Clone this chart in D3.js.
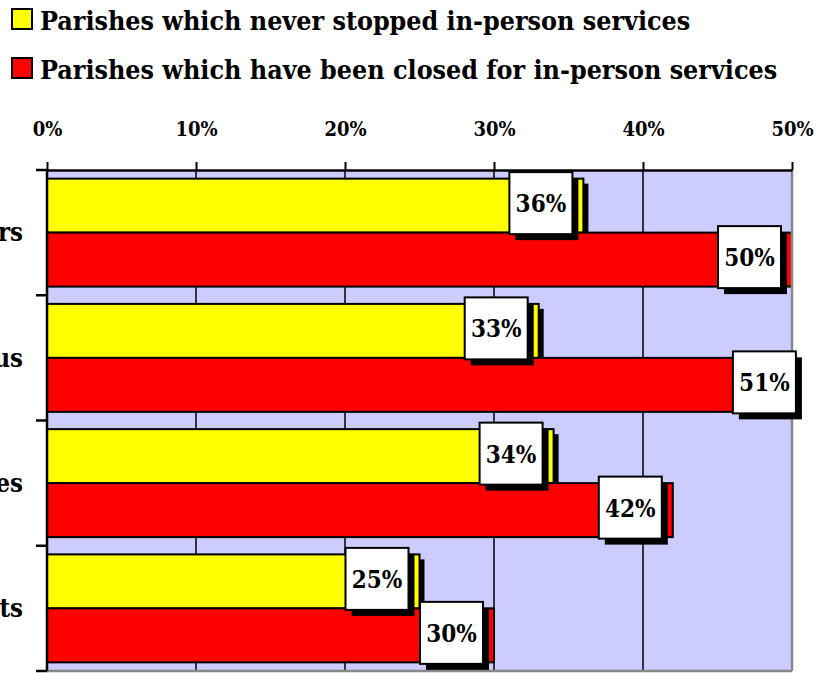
<!DOCTYPE html>
<html>
<head>
<meta charset="utf-8">
<script src="https://cdn.jsdelivr.net/npm/d3@7"></script>
<style>
  html, body { margin: 0; padding: 0; background: #fff; }
  svg { display: block; }
  text { font-family: "DejaVu Serif", serif; font-stretch: condensed; font-weight: bold; fill: #000; }
</style>
</head>
<body>
<svg id="chart" width="827" height="673"></svg>
<script>
// Survey results: share of parishes by group
const categories = ["Volunteers", "Coronavirus", "Families", "Young Adults"];
const seriesNames = ["Parishes which never stopped in-person services",
                     "Parishes which have been closed for in-person services"];
const neverStopped = [36, 33, 34, 25];
const closedServices = [50, 51, 42, 30];
const tickValues = [0, 10, 20, 30, 40, 50];
const seriesColors = ["#FFFF00", "#FF0000"];

const svg = d3.select("#chart");
const plot = { left: 47, right: 792, top: 170, bottom: 671 };

const x = d3.scaleLinear().domain([0, 50]).range([plot.left, plot.right]);
const y = d3.scaleBand().domain(categories).range([plot.top, plot.bottom]).paddingInner(0);
const ySub = d3.scaleBand().domain([0, 1]).range([0, y.bandwidth()])
  .paddingInner(0).paddingOuter(0.16);

const rows = categories.map((c, i) => ({ cat: c, values: [neverStopped[i], closedServices[i]] }));

// Legend
const legend = svg.append("g");
seriesNames.forEach((name, i) => {
  const g = legend.append("g").attr("transform", `translate(0, ${i * 49})`);
  g.append("rect").attr("x", 12).attr("y", 9).attr("width", 20).attr("height", 20)
    .attr("fill", seriesColors[i]).attr("stroke", "#000").attr("stroke-width", 2);
  g.append("text").attr("x", 40).attr("y", 30).attr("font-size", 26.6).text(name);
});

// Plot background
svg.append("rect").attr("x", plot.left).attr("y", plot.top)
  .attr("width", plot.right - plot.left).attr("height", plot.bottom - plot.top)
  .attr("fill", "#CCCCFF");

// Vertical gridlines
svg.append("g").selectAll("line").data(tickValues.slice(1, -1)).join("line")
  .attr("x1", d => x(d)).attr("x2", d => x(d))
  .attr("y1", plot.top).attr("y2", plot.bottom)
  .attr("stroke", "#000").attr("stroke-width", 1.5);

svg.append("defs").append("clipPath").attr("id", "plotClip")
  .append("rect").attr("x", plot.left).attr("y", plot.top)
  .attr("width", plot.right - plot.left).attr("height", plot.bottom - plot.top);

const bars = svg.append("g").attr("clip-path", "url(#plotClip)");

// Drop shadows behind the yellow bars
bars.append("g").selectAll("rect").data(rows).join("rect")
  .attr("x", x(0) + 5)
  .attr("y", d => y(d.cat) + ySub(0) + 5)
  .attr("width", d => x(d.values[0]) - x(0))
  .attr("height", ySub.bandwidth())
  .attr("fill", "#000");

[0, 1].forEach(s => {
  bars.append("g").selectAll("rect").data(rows).join("rect")
    .attr("x", x(0))
    .attr("y", d => y(d.cat) + ySub(s))
    .attr("width", d => x(d.values[s]) - x(0))
    .attr("height", ySub.bandwidth())
    .attr("fill", seriesColors[s])
    .attr("stroke", "#000").attr("stroke-width", 2);
});

// Plot frame: gray right and bottom edges
svg.append("line").attr("x1", plot.right).attr("x2", plot.right)
  .attr("y1", plot.top).attr("y2", plot.bottom)
  .attr("stroke", "#888").attr("stroke-width", 2.5);
svg.append("line").attr("x1", plot.left).attr("x2", plot.right)
  .attr("y1", plot.bottom).attr("y2", plot.bottom)
  .attr("stroke", "#888").attr("stroke-width", 2.5);

// Top axis
const xAxis = svg.append("g").attr("transform", `translate(0, ${plot.top})`)
  .call(d3.axisTop(x).tickValues(tickValues).tickFormat(d => d + "%")
    .tickSizeInner(8).tickSizeOuter(0).tickPadding(26));
xAxis.select(".domain").attr("stroke", "#000").attr("stroke-width", 2.5);
xAxis.selectAll(".tick line").attr("stroke", "#000").attr("stroke-width", 2);
xAxis.selectAll(".tick text").attr("font-size", 20)
  .attr("font-family", null).attr("font-weight", null);

// Left axis: category labels centred in each band, ticks on band boundaries
const yAxis = svg.append("g").attr("transform", `translate(${plot.left}, 0)`)
  .call(d3.axisLeft(y).tickSize(0).tickPadding(24));
yAxis.select(".domain").remove();
yAxis.selectAll(".tick text").attr("font-size", 25.5)
  .attr("font-family", null).attr("dy", "0.34em");

const bounds = categories.map(c => y(c)).concat([plot.bottom]);
svg.append("g").selectAll("line").data(bounds).join("line")
  .attr("x1", plot.left - 11).attr("x2", plot.left)
  .attr("y1", d => d).attr("y2", d => d)
  .attr("stroke", "#000").attr("stroke-width", 2.5);
svg.append("line").attr("x1", plot.left).attr("x2", plot.left)
  .attr("y1", plot.top).attr("y2", plot.bottom)
  .attr("stroke", "#000").attr("stroke-width", 2.5);

// Value labels in shadowed boxes at the end of each bar
const boxW = 63, boxH = 62;
const labels = [];
rows.forEach(r => [0, 1].forEach(s => labels.push({
  v: r.values[s],
  cx: x(r.values[s]) - 11 - boxW / 2,
  cy: y(r.cat) + ySub(s) + ySub.bandwidth() / 2 - 2.5
})));
const lg = svg.append("g").selectAll("g").data(labels).join("g")
  .attr("transform", d => `translate(${d.cx}, ${d.cy})`);
lg.append("rect").attr("x", -boxW / 2 + 6).attr("y", -boxH / 2 + 6)
  .attr("width", boxW).attr("height", boxH).attr("fill", "#000");
lg.append("rect").attr("x", -boxW / 2).attr("y", -boxH / 2)
  .attr("width", boxW).attr("height", boxH)
  .attr("fill", "#fff").attr("stroke", "#000").attr("stroke-width", 2);
lg.append("text").attr("text-anchor", "middle").attr("y", 9)
  .attr("font-size", 24).text(d => d.v + "%");
</script>
</body>
</html>
